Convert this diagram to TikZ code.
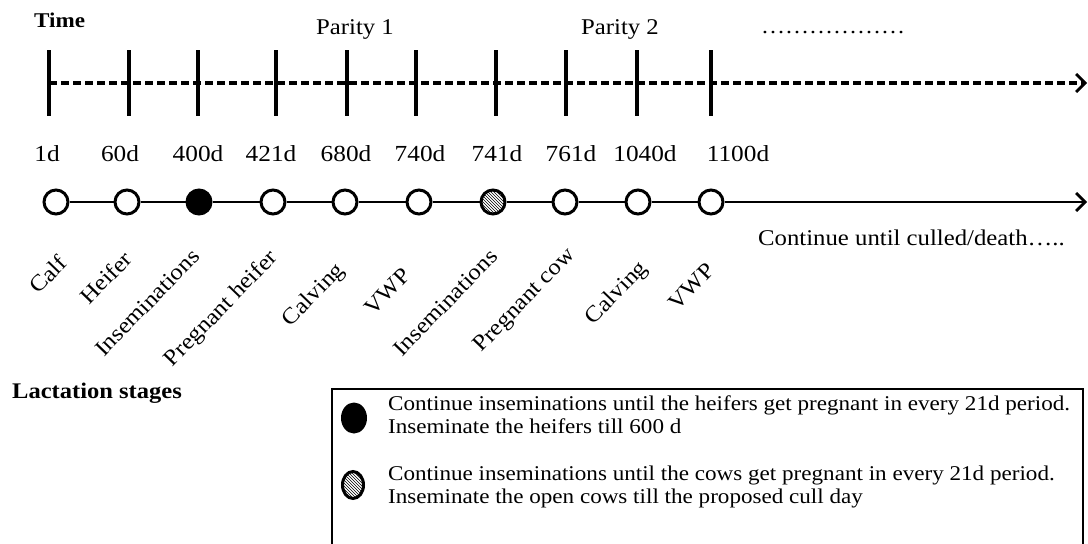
\documentclass[tikz,border=0pt]{standalone}
\usepackage{fontspec}
\setmainfont{Liberation Serif}[FakeStretch=1.1]
\usetikzlibrary{arrows.meta,patterns,shapes.geometric}
\begin{document}
\begin{tikzpicture}[x=1pt,y=-1pt,
  lbl/.style={inner sep=0pt,font=\fontsize{22}{26}\selectfont},
  daylbl/.style={inner sep=0pt,anchor=base,font=\fontsize{23}{27}\selectfont},
  stage/.style={inner sep=0pt,rotate=46,anchor=north east,font=\fontsize{22.5}{26}\selectfont},
  tick/.style={line width=3.2pt},
  ev/.style={circle,draw,line width=3pt,minimum size=24pt,inner sep=0pt,fill=white},
  evfull/.style={ev,fill=black},
  evhatch/.style={ev,pattern=north west lines},
  tip/.style={-{Straight Barb[length=9pt,width=18pt,line width=2.8pt]}}
]
\useasboundingbox (0,0) rectangle (1088,544);

% headers
\node[lbl,anchor=base west,font=\bfseries\fontsize{21}{25}\selectfont] (time) at (34,27) {Time};
\node[lbl,anchor=base,font=\fontsize{22.5}{26}\selectfont] (p1) at (355,34) {Parity 1};
\node[lbl,anchor=base,font=\fontsize{22.5}{26}\selectfont] (p2) at (620,34) {Parity 2};
\node[inner sep=0pt,anchor=base west,font=\fontsize{21.8}{26}\selectfont] (more) at (761,33) {………………};

% time axis
\coordinate (ts) at (49,83);
\coordinate (te) at (1087,83);
\draw[line width=3.1pt,dash pattern=on 8pt off 4pt,tip] (ts) -- (te);
\foreach \x in {49,129,198,276,347,416,496,566,637,711}{
  \draw[tick] (\x,50) -- (\x,116);
}

% day labels
\foreach \x/\t in {47/1d,120/60d,198/400d,271/421d,346/680d,420/740d,497/741d,571/761d,645/1040d,738/1100d}{
  \node[daylbl] at (\x,161) {\t};
}

% event line
\coordinate (le) at (1087,202);
\node[ev] (e1) at (56,202) {};
\node[ev] (e2) at (127,202) {};
\node[evfull] (e3) at (199,202) {};
\node[ev] (e4) at (273,202) {};
\node[ev] (e5) at (345,202) {};
\node[ev] (e6) at (419,202) {};
\node[evhatch] (e7) at (493,202) {};
\node[ev] (e8) at (565,202) {};
\node[ev] (e9) at (638,202) {};
\node[ev] (e10) at (711,202) {};
\foreach \a/\b in {e1/e2,e2/e3,e3/e4,e4/e5,e5/e6,e6/e7,e7/e8,e8/e9,e9/e10}{
  \draw[line width=2.8pt] (\a) -- (\b);
}
\draw[line width=2.8pt,tip] (e10) -- (le);
\node[lbl,anchor=base west,font=\fontsize{22.5}{26}\selectfont] (cont) at (758,245) {Continue until culled/death…..};

% stages
\node[stage] (s1) at (57,253) {Calf};
\node[stage] (s2) at (122,249) {Heifer};
\node[stage] (s3) at (190,247) {Inseminations};
\node[stage] (s4) at (267,247) {Pregnant heifer};
\node[stage] (s5) at (334,260) {Calving};
\node[stage] (s6) at (401,266) {VWP};
\node[stage] (s7) at (488,247) {Inseminations};
\node[stage] (s8) at (565,245) {Pregnant cow};
\node[stage] (s9) at (637,258) {Calving};
\node[stage] (s10) at (705,261) {VWP};

\node[lbl,anchor=base west,font=\bfseries\fontsize{22.3}{26}\selectfont] (lact) at (12,398) {Lactation stages};

% legend
\draw[line width=1.3pt] (332,546) -- (332,389) -- (1083,389) -- (1083,546);
\node[ellipse,fill=black,minimum width=26pt,minimum height=31pt,inner sep=0pt] (k1) at (354,418) {};
\node[ellipse,draw,line width=3pt,pattern=north west lines,minimum width=21pt,minimum height=27pt,inner sep=0pt] (k2) at (353,485) {};
\node[lbl,anchor=base west,align=left,font=\fontsize{21}{23}\selectfont] (t1) at (388,433)
  {Continue inseminations until the heifers get pregnant in every 21d period.\\Inseminate the heifers till 600 d};
\node[lbl,anchor=base west,align=left,font=\fontsize{21}{23}\selectfont] (t2) at (388,503)
  {Continue inseminations until the cows get pregnant in every 21d period.\\Inseminate the open cows till the proposed cull day};
\end{tikzpicture}
\end{document}
